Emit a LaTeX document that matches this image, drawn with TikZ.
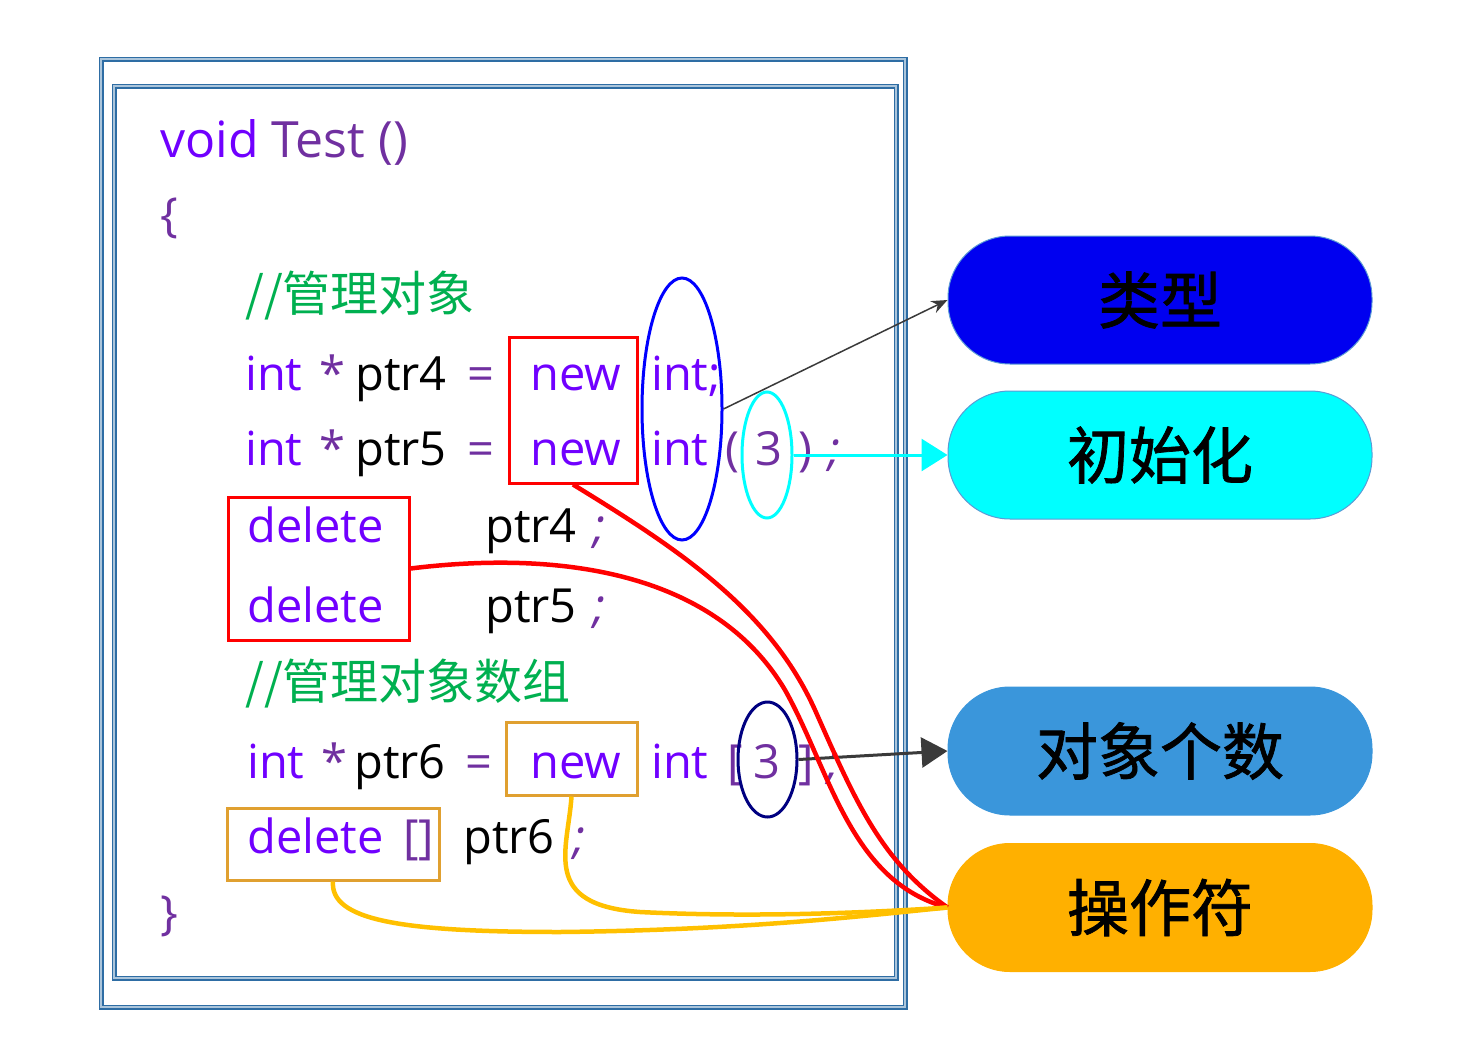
\documentclass[tikz,border=0pt]{standalone}
\usepackage{fontspec}
\setmainfont{Open Sans}
\newfontfamily\cjk{Noto Sans CJK SC}
\newfontfamily\cjkb[FakeBold=1.2]{Noto Sans CJK SC}
\usetikzlibrary{shapes.geometric,arrows.meta}
\definecolor{kw}{HTML}{7000FF}
\definecolor{pu}{HTML}{7030A0}
\definecolor{cgr}{HTML}{00B050}
\definecolor{framec}{HTML}{2E6DA4}
\definecolor{boxor}{HTML}{E0A030}
\definecolor{lineor}{HTML}{FFC000}
\definecolor{fillor}{HTML}{FFB000}
\definecolor{fillsky}{HTML}{3A96DB}
\definecolor{fillblue}{HTML}{0000F0}
\definecolor{purecyan}{HTML}{00FFFF}
\definecolor{pureblue}{HTML}{0000FF}
\definecolor{navyc}{HTML}{000080}
\definecolor{arrgrey}{HTML}{3A3A3A}
\definecolor{pillborder}{HTML}{5B9BD5}
\begin{document}
\begin{tikzpicture}[x=1pt,y=-1pt,
  code/.style={anchor=base west, inner sep=0pt, font=\fontsize{47}{56}\selectfont},
  cmt/.style={anchor=base west, inner sep=0pt, text=cgr, font=\cjk\fontsize{48}{56}\selectfont},
  frame/.style={draw=framec, line width=1.9pt, double=framec!40, double distance=1.2pt},
  redbox/.style={draw=red, line width=3pt, inner sep=0pt},
  orbox/.style={draw=boxor, line width=3pt, inner sep=0pt},
  ell/.style={ellipse, line width=3pt, inner sep=0pt},
  pill/.style={rectangle, rounded corners=62pt, draw=pillborder, line width=1pt,
    minimum width=424pt, minimum height=128pt, inner sep=0pt,
    font=\cjkb\fontsize{62}{70}\selectfont, text=black},
  redline/.style={draw=red, line width=4.5pt},
  orline/.style={draw=lineor, line width=4.5pt}
]
\useasboundingbox (0,0) rectangle (1478,1044);
% frames
\draw[frame] (101,59) rectangle (905,1007);
\draw[frame] (114,86) rectangle (896,978);

% code text
\node[code] (t1) at (160,157) {\fontsize{50}{56}\selectfont\textcolor{kw}{void} \textcolor{pu}{Test ()}};
\node[code,text=pu] (ob) at (160,231) {\{};
\node[cmt] (c1) at (245,311) {//管理对象};

\node[code,text=kw] (r4a) at (245,390) {int};
\node[code,text=pu] (r4b) at (319,390) {*};
\node[code] (r4c) at (355,390) {ptr4};
\node[code,text=pu] (r4d) at (467,390) {=};
\node[code,text=kw] (r4e) at (530,390) {new};
\node[code,text=kw] (r4f) at (651,390) {int;};

\node[code,text=kw] (r5a) at (245,465) {int};
\node[code,text=pu] (r5b) at (319,465) {*};
\node[code] (r5c) at (355,465) {ptr5};
\node[code,text=pu] (r5d) at (467,465) {=};
\node[code,text=kw] (r5e) at (530,465) {new};
\node[code,text=kw] (r5f) at (651,465) {int};
\node[code,text=pu] (r5g) at (725,465) {(};
\node[code,text=pu] (r5h) at (755,465) {3};
\node[code,text=pu] (r5i) at (798,465) {)};
\node[code,text=pu] (r5j) at (828,465) {\itshape ;};

\node[code,text=kw] (d1a) at (247,542) {delete};
\node[code] (d1b) at (485,542) {ptr4};
\node[code,text=pu] (d1c) at (593,542) {\itshape ;};
\node[code,text=kw] (d2a) at (247,622) {delete};
\node[code] (d2b) at (485,622) {ptr5};
\node[code,text=pu] (d2c) at (593,622) {\itshape ;};

\node[cmt] (c2) at (245,699) {//管理对象数组};

\node[code,text=kw] (r6a) at (247,778) {int};
\node[code,text=pu] (r6b) at (321,778) {*};
\node[code] (r6c) at (354,778) {ptr6};
\node[code,text=pu] (r6d) at (465,778) {=};
\node[code,text=kw] (r6e) at (530,778) {new};
\node[code,text=kw] (r6f) at (651,778) {int};
\node[code,text=pu] (r6g) at (727,778) {[};
\node[code,text=pu] (r6h) at (753,778) {3};
\node[code,text=pu] (r6i) at (798,778) {]};
\node[code,text=pu] (r6j) at (827,778) {\itshape ;};

\node[code,text=kw] (r7a) at (247,853) {delete};
\node[code,text=pu] (r7b) at (403,853) {[]};
\node[code] (r7c) at (463,853) {ptr6};
\node[code,text=pu] (r7d) at (573,853) {\itshape ;};

\node[code,text=pu] (cb) at (160,929) {\}};

% boxes
\node[redbox, minimum width=128pt, minimum height=146pt] (rnew) at (573,410) {};
\node[redbox, minimum width=181pt, minimum height=143pt] (rdel) at (318.5,568.5) {};
\node[orbox, minimum width=131pt, minimum height=73pt] (onew) at (571.5,758.5) {};
\node[orbox, minimum width=212pt, minimum height=72pt] (odel) at (333,844) {};

% ellipses
\node[ell, draw=pureblue, minimum width=80pt, minimum height=262pt] (eb) at (682,409) {};
\node[ell, draw=purecyan, minimum width=50pt, minimum height=126pt] (ec) at (767,455) {};
\node[ell, draw=navyc, minimum width=59pt, minimum height=115pt] (en) at (767.5,759.5) {};

% pills
\node[pill, fill=fillblue] (p1) at (1160,300) {类型};
\node[pill, fill=purecyan] (p2) at (1160,455) {初始化};
\node[pill, fill=fillsky, draw=fillsky] (p3) at (1160,751) {对象个数};
\node[pill, fill=fillor, draw=fillor] (p4) at (1160,907.5) {操作符};

% connectors
\draw[arrgrey, line width=1.5pt, -{Stealth[length=16pt,width=13pt]}] (eb.east) -- (p1.west);
\draw[purecyan, line width=3pt, -{Triangle[length=26pt,width=32pt]}] (ec.east) -- (p2.west);
\draw[arrgrey, line width=3pt, -{Triangle[length=26pt,width=30pt]}] (en.east) -- (p3.west);

\draw[redline] (rdel.east) .. controls (560,550) and (715,572) .. (785,690)
  .. controls (830,770) and (850,882) .. (p4.west);
\draw[redline] (rnew.south) .. controls (680,550) and (770,610) .. (815,710)
  .. controls (855,800) and (880,860) .. (p4.west);
\draw[orline] (onew.south) .. controls (568,850) and (540,905) .. (640,912)
  .. controls (760,918) and (880,912) .. (p4.west);
\draw[orline] (odel.south) .. controls (330,920) and (400,932) .. (560,932)
  .. controls (750,930) and (870,915) .. (p4.west);
\end{tikzpicture}
\end{document}
